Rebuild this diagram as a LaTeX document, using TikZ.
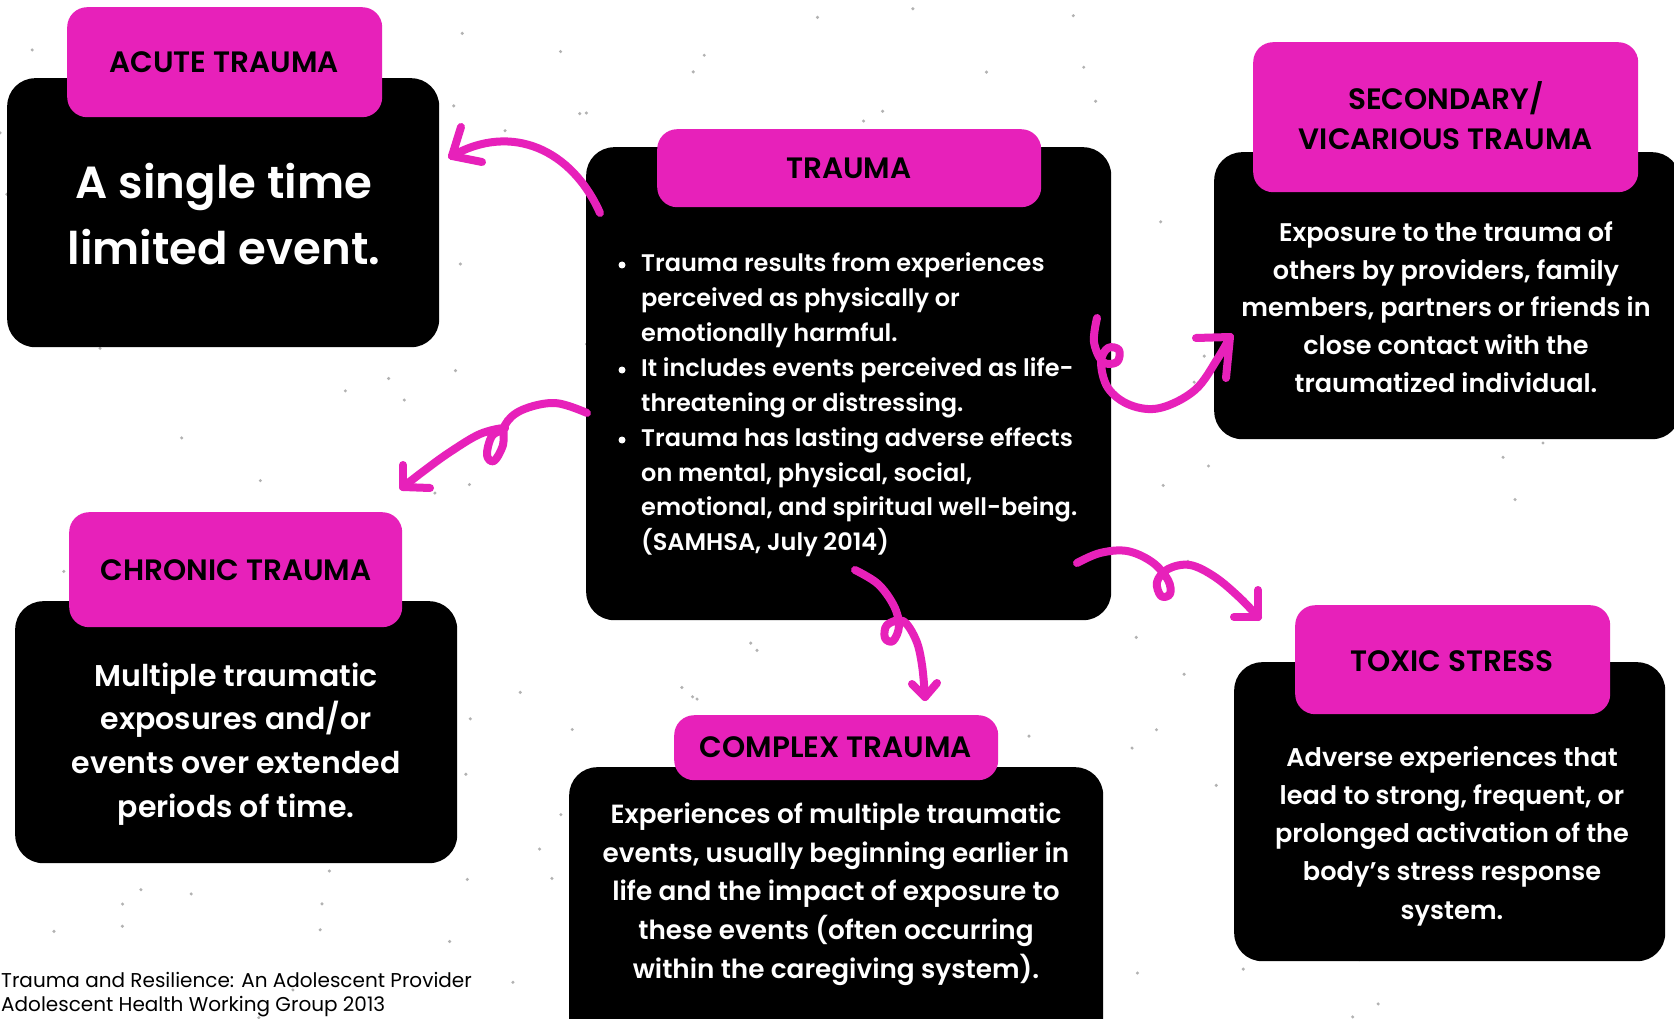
\documentclass[tikz,border=0pt]{standalone}
\usepackage{fontspec}
\setmainfont{Poppins}[UprightFont={* Medium}, BoldFont={* SemiBold}]
\newfontfamily\footfont{Poppins}
\definecolor{tpink}{RGB}{231,33,186}
\begin{document}
\begin{tikzpicture}[x=1pt,y=-1pt,
  blk/.style={fill=black, rounded corners=28pt, inner sep=0pt, anchor=north west},
  pnk/.style={fill=tpink, rounded corners=20pt, inner sep=0pt, anchor=north west},
  ttl/.style={text=black, align=center, inner sep=0pt, font=\fontsize{29.5}{40}\selectfont\bfseries},
  bdy/.style={text=white, align=center, inner sep=0pt},
  bul/.style={circle, fill=white, inner sep=0pt, minimum size=7pt},
  squig/.style={draw=tpink, line width=8pt, line cap=round, line join=round},
]
\clip (0,0) rectangle (1674,1019);
\fill[white] (0,0) rectangle (1674,1019);
% speckles
\pgfmathsetseed{7}
\foreach \i in {1,...,200}{
  \pgfmathsetmacro\xx{rnd*1674}
  \pgfmathsetmacro\yy{rnd*1019}
  \fill[gray!60] (\xx,\yy) circle (1.7);
}
% boxes
\node[blk, minimum width=432pt, minimum height=269pt] (acuteB) at (7,78) {};
\node[pnk, minimum width=315pt, minimum height=110pt] (acuteT) at (67,7) {};
\node[blk, minimum width=525pt, minimum height=473pt] (traumaB) at (586,147) {};
\node[pnk, minimum width=384pt, minimum height=78pt] (traumaT) at (657,129) {};
\node[blk, minimum width=466pt, minimum height=287pt] (secB) at (1214,152) {};
\node[pnk, minimum width=385pt, minimum height=150pt] (secT) at (1253,42) {};
\node[blk, minimum width=442pt, minimum height=262pt] (chronB) at (15,601) {};
\node[pnk, minimum width=333pt, minimum height=115pt] (chronT) at (69,512) {};
\node[blk, minimum width=534pt, minimum height=300pt] (compB) at (569,767) {};
\node[pnk, minimum width=324pt, minimum height=65pt] (compT) at (674,715) {};
\node[blk, minimum width=431pt, minimum height=299pt] (toxB) at (1234,662) {};
\node[pnk, minimum width=315pt, minimum height=109pt] (toxT) at (1295,605) {};
% titles
\node[ttl] (acuteL) at (224,62) {ACUTE TRAUMA};
\node[ttl] (traumaL) at (849,168) {TRAUMA};
\node[ttl] (secL) at (1446,116) {SECONDARY/\\VICARIOUS TRAUMA};
\node[ttl] (chronL) at (236,570) {CHRONIC TRAUMA};
\node[ttl] (compL) at (836,747) {COMPLEX TRAUMA};
\node[ttl] (toxL) at (1452,661) {TOXIC STRESS};
% bodies
\node[bdy, font=\fontsize{45}{66}\selectfont\bfseries] (acuteX) at (224,214) {A single time\\limited event.};
\node[text=white, align=left, inner sep=0pt, anchor=west, font=\fontsize{24}{34.9}\selectfont\bfseries] (traumaX) at (641,405)
 {Trauma results from experiences\\perceived as physically or\\emotionally harmful.\\It includes events perceived as life-\\threatening or distressing.\\Trauma has lasting adverse effects\\on mental, physical, social,\\emotional, and spiritual well-being.\\(SAMHSA, July 2014)};
\node[bul] (b1) at (622,265) {};
\node[bul] (b2) at (622,370) {};
\node[bul] (b3) at (622,440) {};
\node[bdy, font=\fontsize{25.5}{37.7}\selectfont\bfseries] (secX) at (1446,307) {Exposure to the trauma of\\others by providers, family\\members, partners or friends in\\close contact with the\\traumatized individual.};
\node[bdy, font=\fontsize{30}{43.7}\selectfont\bfseries] (chronX) at (236,744) {Multiple traumatic\\exposures and/or\\events over extended\\periods of time.};
\node[bdy, font=\fontsize{26.3}{38.7}\selectfont\bfseries] (compX) at (836,894) {Experiences of multiple traumatic\\events, usually beginning earlier in\\life and the impact of exposure to\\these events (often occurring\\within the caregiving system).};
\node[bdy, font=\fontsize{25.6}{38.3}\selectfont\bfseries] (toxX) at (1452,836) {Adverse experiences that\\lead to strong, frequent, or\\prolonged activation of the\\body’s stress response\\system.};
% footer
\node[text=black, align=left, inner sep=0pt, anchor=west, font=\footfont\fontsize{20}{24}\selectfont] (foot) at (1,995) {Trauma and Resilience: An Adolescent Provider\\Adolescent Health Working Group 2013};
% arrows
\coordinate (s1) at (600,213); \coordinate (e1) at (452,156);
\coordinate (s2) at (587,413); \coordinate (e2) at (403,487);
\coordinate (s3) at (1097,318); \coordinate (e3) at (1230,337);
\coordinate (s4) at (1077,563); \coordinate (e4) at (1258,617);
\coordinate (s5) at (855,570); \coordinate (e5) at (925,697);
\draw[squig] (s1) .. controls (572,150) and (512,122) .. (e1);
\draw[squig] (e1) -- (461,127); \draw[squig] (e1) -- (482,162);
\draw[squig] plot[smooth, tension=0.6] coordinates {(s2) (555,403) (522,410) (505,425) (503,445) (494,461) (487,455) (492,436) (505,428) (480,434) (450,452) (425,470) (e2)};
\draw[squig] (e2) -- (403,465); \draw[squig] (e2) -- (430,488);
\draw[squig] plot[smooth, tension=0.6] coordinates {(s3) (1094,342) (1103,362) (1117,362) (1119,350) (1108,348) (1101,362) (1108,388) (1130,405) (1160,408) (1195,390) (1218,358) (e3)};
\draw[squig] (e3) -- (1196,338); \draw[squig] (e3) -- (1226,378);
\draw[squig] plot[smooth, tension=0.6] coordinates {(s4) (1100,553) (1127,551) (1152,562) (1168,580) (1170,594) (1161,596) (1157,582) (1168,569) (1190,565) (1215,577) (1240,598) (e4)};
\draw[squig] (e4) -- (1258,590); \draw[squig] (e4) -- (1234,617);
\draw[squig] plot[smooth, tension=0.6] coordinates {(s5) (878,584) (894,606) (899,626) (893,641) (885,638) (887,625) (903,621) (916,640) (922,665) (e5)};
\draw[squig] (e5) -- (912,684); \draw[squig] (e5) -- (937,683);
\end{tikzpicture}
\end{document}
